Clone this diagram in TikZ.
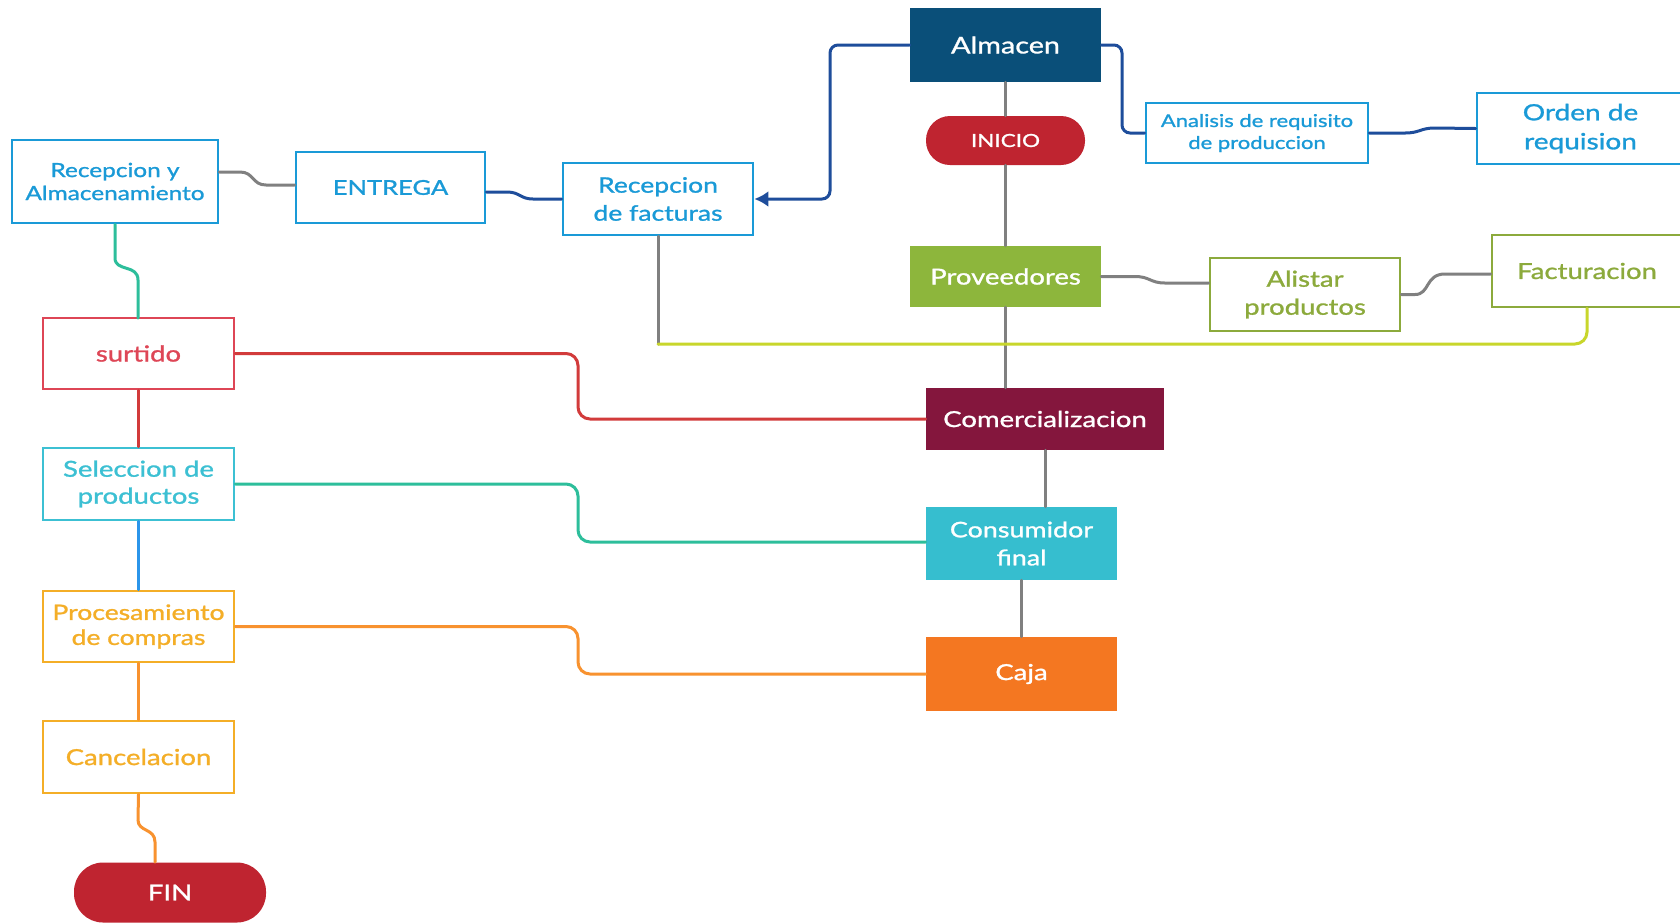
\documentclass[tikz,border=0pt]{standalone}
\usepackage{fontspec}
\setmainfont{Lato}[FakeStretch=1.25, FakeBold=1.2]
\usetikzlibrary{arrows.meta}
\definecolor{navyl}{HTML}{1E4D9B}
\definecolor{almfill}{HTML}{0A4F79}
\definecolor{redend}{HTML}{BF2430}
\definecolor{provg}{HTML}{8DB63C}
\definecolor{maroon}{HTML}{84163D}
\definecolor{consc}{HTML}{36BECF}
\definecolor{cajao}{HTML}{F47721}
\definecolor{boxb}{HTML}{1A9AD7}
\definecolor{olive}{HTML}{8CAA3C}
\definecolor{surtr}{HTML}{DE4656}
\definecolor{selc}{HTML}{3CC0D3}
\definecolor{amber}{HTML}{F4AE27}
\definecolor{tealL}{HTML}{2DBE9B}
\definecolor{redL}{HTML}{D23B3B}
\definecolor{blueL}{HTML}{2B95EA}
\definecolor{orangeL}{HTML}{F8922F}
\definecolor{yelL}{HTML}{C8D62B}
\definecolor{grayL}{HTML}{808080}
\newcommand\myfs[2]{\fontsize{#1}{#2}\selectfont}
\tikzset{
  sz/.style 2 args={minimum width=#1*0.5pt, minimum height=#2*0.5pt},
  obox/.style={draw=#1, text=#1, line width=1.4pt, fill=white, align=center, inner sep=0pt},
  fbox/.style={fill=#1, text=white, align=center, inner sep=0pt},
  conn/.style={line width=1.5pt, line cap=round},
}
\begin{document}
\begin{tikzpicture}[x=0.5pt,y=-0.5pt]
\useasboundingbox[fill=white] (0,0) rectangle (1680,923);

% filled main column
\node[fbox=almfill, sz={191}{74}, font=\myfs{11.5}{14}] (alm) at (1005.5,45) {Almacen};
\node[fbox=redend, sz={159}{49}, rounded corners=12pt, font=\myfs{9}{11}] (inicio) at (1005.5,140.5) {INICIO};
\node[fbox=provg, sz={191}{61}, font=\myfs{11}{14}] (prov) at (1005.5,276.5) {Proveedores};
\node[fbox=maroon, sz={238}{62}, font=\myfs{11}{14}] (comer) at (1045,419) {Comercializacion};
\node[fbox=consc, sz={191}{73}, font=\myfs{10.75}{14}] (cons) at (1021.5,543.5) {Consumidor\\final};
\node[fbox=cajao, sz={191}{74}, font=\myfs{11}{14}] (caja) at (1021.5,674) {Caja};

% right side
\node[obox=boxb, sz={222}{60}, font=\myfs{8.8}{11}] (anal) at (1257,133) {Analisis de requisito\\de produccion};
\node[obox=boxb, sz={207}{71}, font=\myfs{11.2}{14.5}] (orden) at (1580.5,128.5) {Orden de\\requision};
\node[obox=olive, sz={190}{73}, font=\myfs{11}{14}] (alist) at (1305,294.5) {Alistar\\productos};
\node[obox=olive, sz={190}{72}, font=\myfs{11}{14}] (fact) at (1587,271) {Facturacion};

% top-left row
\node[obox=boxb, sz={206}{83}, font=\myfs{9.75}{11.5}] (reca) at (115,181.5) {Recepcion y\\Almacenamiento};
\node[obox=boxb, sz={189}{71}, font=\myfs{10.2}{14}] (entr) at (390.5,187.5) {ENTREGA};
\node[obox=boxb, sz={190}{72}, font=\myfs{10.6}{14}] (recf) at (658,199) {Recepcion\\de facturas};

% left column
\node[obox=surtr, sz={191}{71}, font=\myfs{11}{14}] (surt) at (138.5,353.5) {surtido};
\node[obox=selc, sz={191}{72}, font=\myfs{11}{13.5}] (selec) at (138.5,484) {Seleccion de\\productos};
\node[obox=amber, sz={191}{71}, font=\myfs{10.6}{12.5}] (proc) at (138.5,626.5) {Procesamiento\\de compras};
\node[obox=amber, sz={191}{72}, font=\myfs{11}{14}] (canc) at (138.5,757) {Cancelacion};
\node[fbox=redend, sz={192}{60}, rounded corners=14.5pt, font=\myfs{11}{14}] (fin) at (170,892.5) {FIN};

% connectors: main column
\draw[conn, grayL] (alm.south) -- (inicio.north);
\draw[conn, grayL] (inicio.south) -- (prov.north);
\draw[conn, grayL] (prov.south) -- (prov.south |- comer.north);
\draw[conn, grayL] (comer.south) -- (comer.south |- cons.north);
\draw[conn, grayL] (cons.south) -- (caja.north);

% Almacen branches
\draw[conn, navyl, rounded corners=4pt, -{Latex[length=7pt,width=8pt]}] (alm.west) -- (830,45) -- (830,199) -- (recf.east);
\draw[conn, navyl, rounded corners=4pt] (alm.east) -- (1122,45) -- (1122,133) -- (anal.west);
\draw[conn, navyl] (anal.east) -- (1405,133) .. controls (1420,133) and (1420,128) .. (1435,128) -- (orden.west);
\draw[conn, navyl] (entr.east |- 0,192) -- (507,192) .. controls (520,192) and (520,199) .. (533,199) -- (recf.west);
\draw[conn, grayL] (reca.east |- 0,172) -- (240,172) .. controls (254,172) and (252,185) .. (266,185) -- (entr.west |- 0,185);
\draw[conn, tealL] (reca.south) -- (115,258) .. controls (115,272) and (138,264) .. (138,280) -- (138,318);

% Facturas to Facturacion
\coordinate (yj) at (658,344);
\draw[conn, grayL] (recf.south) -- (yj);
\draw[conn, yelL, rounded corners=6pt] (yj) -- (1587,344) -- (fact.south);

% Proveedores branches
\draw[conn, grayL] (prov.east) -- (1135,276.5) .. controls (1150,276.5) and (1150,283) .. (1165,283) -- (alist.west |- 0,283);
\draw[conn, grayL] (alist.east) -- (1415,294.5) .. controls (1430,294.5) and (1425,274) .. (1445,274) -- (fact.west |- 0,274);

% left column to center
\draw[conn, redL, rounded corners=6pt] (surt.east) -- (578,353.5) -- (578,419) -- (comer.west);
\draw[conn, tealL, rounded corners=6pt] (selec.east) -- (578,484) -- (578,542) -- (cons.west |- 0,542);
\draw[conn, orangeL, rounded corners=6pt] (proc.east) -- (578,626.5) -- (578,674) -- (caja.west);

% left column verticals
\draw[conn, redL] (surt.south) -- (selec.north);
\draw[conn, blueL] (selec.south) -- (proc.north);
\draw[conn, orangeL] (proc.south) -- (canc.north);
\draw[conn, orangeL] (canc.south) -- (138,820) .. controls (138,832) and (155,828) .. (155,842) -- ([xshift=-7.5pt]fin.north);
\end{tikzpicture}
\end{document}
